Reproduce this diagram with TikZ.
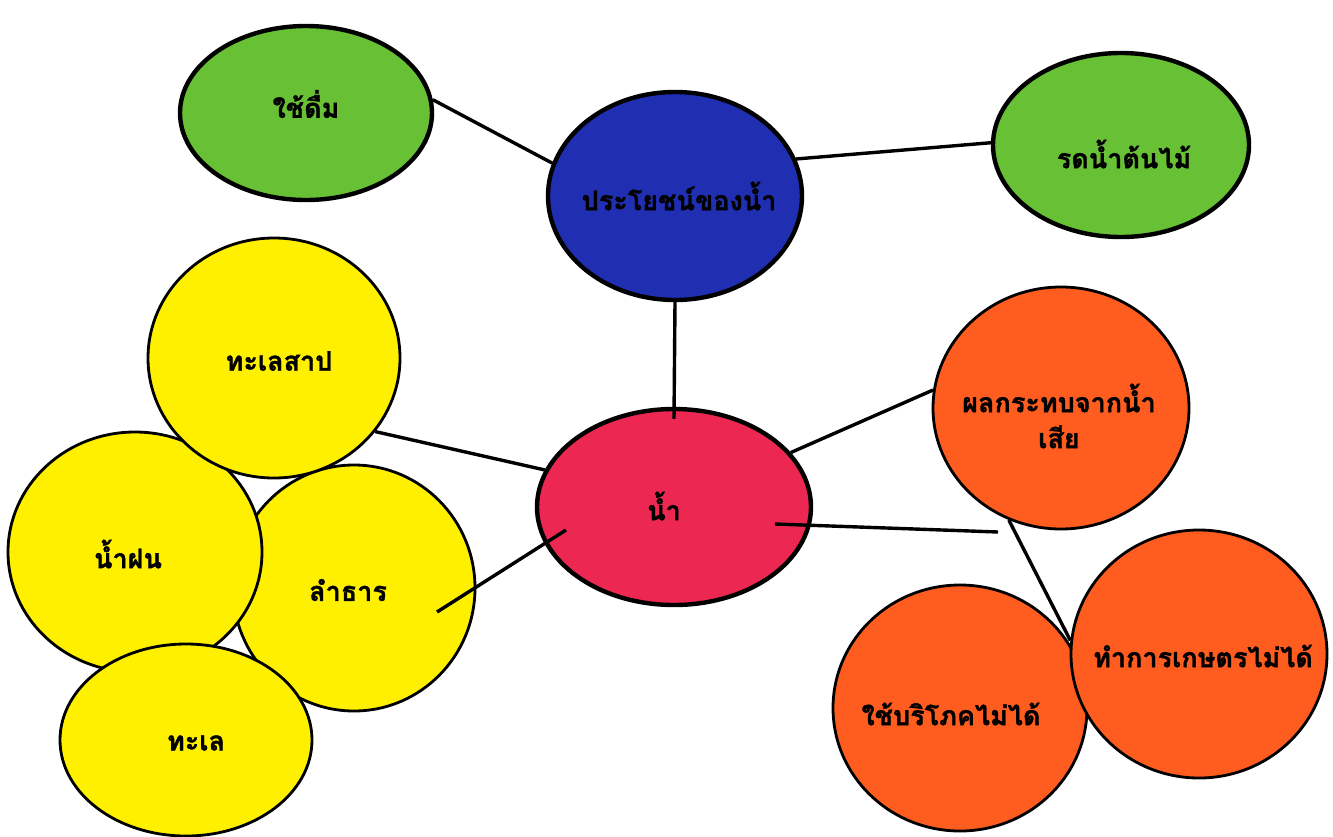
\documentclass[tikz,border=0pt]{standalone}
\usepackage{fontspec}
\newfontfamily\thaifont[Script=Thai, BoldFeatures={FakeBold=1.2}]{Loma}
\usetikzlibrary{shapes.geometric}
\definecolor{cgreen}{RGB}{104,192,52}
\definecolor{cblue}{RGB}{32,46,178}
\definecolor{cred}{RGB}{236,40,82}
\definecolor{cyellow}{RGB}{255,240,0}
\definecolor{corange}{RGB}{255,92,32}
\tikzset{
  bub/.style={ellipse, draw=black, inner sep=0pt},
  thick bub/.style={bub, line width=4.4pt},
  thin bub/.style={bub, line width=2.8pt},
  txt/.style={inner sep=0pt, font=\thaifont\bfseries\fontsize{27}{36}\selectfont, align=center},
  link/.style={draw=black, line width=3.4pt},
}
\begin{document}
\begin{tikzpicture}[x=1pt,y=-1pt]
\useasboundingbox[fill=white] (0,0) rectangle (1333,836);
% green / blue / red
\node[thick bub, fill=cgreen, minimum width=252, minimum height=174] (drink) at (306,113) {};
\node[thick bub, fill=cblue, minimum width=254, minimum height=208] (benefit) at (675,196) {};
\node[thick bub, fill=cgreen, minimum width=256, minimum height=184] (plants) at (1121,145) {};
\node[thick bub, fill=cred, minimum width=274, minimum height=196] (nam) at (674,507) {};
% yellow
\node[thin bub, fill=cyellow, minimum width=242, minimum height=246] (stream) at (354,588) {};
\node[thin bub, fill=cyellow, minimum width=254, minimum height=240] (rain) at (135,552) {};
\node[thin bub, fill=cyellow, minimum width=252, minimum height=240] (lake) at (274,358) {};
\node[thin bub, fill=cyellow, minimum width=252, minimum height=192] (sea) at (186,740) {};
% orange
\node[thin bub, fill=corange, minimum width=256, minimum height=242] (impact) at (1061,408) {};
\node[thin bub, fill=corange, minimum width=254, minimum height=246] (consume) at (960,708) {};
\node[thin bub, fill=corange, minimum width=256, minimum height=248] (farm) at (1199,654) {};
% texts
\node[txt] (drink-t) at (306,104) {ใช้ดื่ม};
\node[txt] (benefit-t) at (679,196) {ประโยชน์ของน้ำ};
\node[txt] (plants-t) at (1124,154) {รดน้ำต้นไม้};
\node[txt] (nam-t) at (664,506) {น้ำ};
\node[txt] (stream-t) at (348,590) {ลำธาร};
\node[txt] (rain-t) at (128,554) {น้ำฝน};
\node[txt] (lake-t) at (279,361) {ทะเลสาป};
\node[txt] (sea-t) at (196,743) {ทะเล};
\node[txt] (impact-t) at (1059,416) {ผลกระทบจากน้ำ\\เสีย};
\node[txt] (consume-t) at (951,714) {ใช้บริโภคไม่ได้};
\node[txt] (farm-t) at (1203,656) {ทำการเกษตรไม่ได้};
% connectors
\draw[link] (drink.6) -- (benefit.165);
\draw[link] (benefit.17) -- (plants.179);
\draw[link] (benefit.south) -- ([yshift=-12pt]nam.north);
\draw[link] (lake.-36) -- (nam.164);
\draw[link] ([shift={(83,24)}]stream.center) -- ([shift={(-108,23)}]nam.center);
\draw[link] (nam.25) -- (impact.172);
\coordinate (j) at (998,532);
\draw[link] ([shift={(101,17)}]nam.center) -- (j);
\draw[link] (impact.-115) -- (farm.174);
\end{tikzpicture}
\end{document}
